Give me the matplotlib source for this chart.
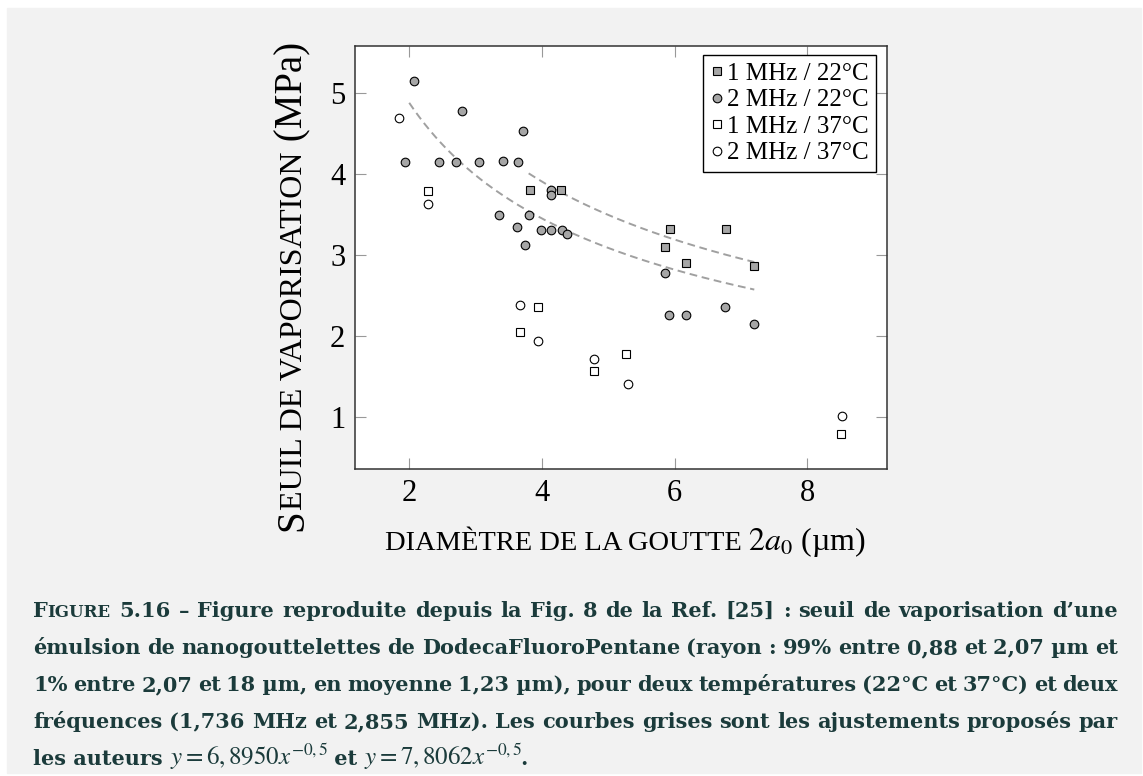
import numpy as np
import matplotlib
matplotlib.use('Agg')
import matplotlib.pyplot as plt
from matplotlib.patches import Rectangle
from matplotlib.transforms import IdentityTransform

plt.rcParams['font.family'] = ['Liberation Serif', 'DejaVu Serif']
plt.rcParams['mathtext.fontset'] = 'stix'

# seuil de vaporisation (MPa) vs diametre de la goutte (um)
sq22_x = [3.82, 4.29, 5.86, 5.93, 6.17, 6.77, 7.19]
sq22_y = [3.80, 3.80, 3.10, 3.32, 2.90, 3.32, 2.86]

ci22_x = [1.94, 2.07, 2.45, 2.71, 2.80, 3.05, 3.42, 3.64, 3.72, 4.13, 4.13, 3.36,
          3.81, 3.63, 3.99, 4.13, 4.30, 4.38, 3.74, 5.86, 5.92, 6.17, 6.76, 7.20]
ci22_y = [4.14, 5.14, 4.14, 4.14, 4.77, 4.14, 4.16, 4.14, 4.53, 3.80, 3.74, 3.49,
          3.49, 3.34, 3.31, 3.30, 3.30, 3.26, 3.12, 2.78, 2.25, 2.25, 2.35, 2.15]

sq37_x = [2.29, 3.67, 3.94, 4.78, 5.26, 8.51]
sq37_y = [3.79, 2.04, 2.35, 1.56, 1.78, 0.78]

ci37_x = [1.85, 2.29, 3.67, 3.94, 4.78, 5.30, 8.52]
ci37_y = [4.69, 3.62, 2.38, 1.93, 1.71, 1.40, 1.01]

# ajustements y = a x^-0.5
fit_a = [6.8950, 7.8062]
fit_range = [(2.0, 7.2), (3.8, 7.2)]

labels = ['1 MHz / 22°C', '2 MHz / 22°C', '1 MHz / 37°C', '2 MHz / 37°C']

caption_lines = [
    "5.16 – Figure reproduite depuis la Fig. 8 de la Ref. [25] : seuil de vaporisation d’une",
    "émulsion de nanogouttelettes de DodecaFluoroPentane (rayon : 99% entre 0,88 et 2,07~µm et",
    "1% entre 2,07 et 18~µm, en moyenne 1,23~µm), pour deux températures (22°C et 37°C) et deux",
    "fréquences (1,736 MHz et 2,855 MHz). Les courbes grises sont les ajustements proposés par",
]
caption_last = ['les auteurs ', r'$y = 6,8950x^{-0,5}$', ' et ', r'$y = 7,8062x^{-0,5}$', '.']

W, H = 1143, 776
fig = plt.figure(figsize=(W / 100, H / 100), dpi=100)
fig.patches.append(Rectangle((7 / W, 3 / H), 1134 / W, 765 / H,
                             transform=fig.transFigure, color='#f2f2f2', zorder=-1))

ax = fig.add_axes([355 / W, 1 - 469 / H, 532 / W, 423 / H])
ax.set_facecolor('white')

for a, (x0, x1) in zip(fit_a, fit_range):
    xs = np.linspace(x0, x1, 200)
    ax.plot(xs, a / np.sqrt(xs), color='#a0a0a0', lw=1.4, dashes=(4.0, 2.4), zorder=1)

gray = '#a6a6a6'
ax.plot(sq22_x, sq22_y, 's', ms=5.6, mfc=gray, mec='black', mew=0.8, ls='none', label=labels[0])
ax.plot(ci22_x, ci22_y, 'o', ms=6.2, mfc=gray, mec='black', mew=0.8, ls='none', label=labels[1])
ax.plot(sq37_x, sq37_y, 's', ms=5.6, mfc='white', mec='black', mew=0.8, ls='none', label=labels[2])
ax.plot(ci37_x, ci37_y, 'o', ms=6.2, mfc='white', mec='black', mew=0.8, ls='none', label=labels[3])

ax.set_xlim(1.183, 9.2)
ax.set_ylim(0.354, 5.577)
ax.set_xticks([2, 4, 6, 8])
ax.set_yticks([1, 2, 3, 4, 5])
ax.tick_params(direction='in', length=8, width=0.8, color='#999999', labelsize=22,
               top=True, right=True, pad=7)
for sp in ax.spines.values():
    sp.set_color('#333333')
    sp.set_linewidth(1.1)

leg = ax.legend(loc='upper right', bbox_to_anchor=(0.979, 0.979), borderaxespad=0,
                fontsize=18, handlelength=0.5, handletextpad=0.15, borderpad=0.3,
                labelspacing=0.16, numpoints=1, fancybox=False, framealpha=1)
leg.get_frame().set_edgecolor('black')
leg.get_frame().set_linewidth(1.0)

r = fig.canvas.get_renderer()
SERIF = ['Liberation Serif', 'DejaVu Serif']
CAP_FONT = ['DejaVu Serif']


def advance(s, size, weight='normal', family=SERIF):
    a = fig.text(0, 0, '|' + s + '|', fontsize=size, fontweight=weight, family=family)
    b = fig.text(0, 0, '||', fontsize=size, fontweight=weight, family=family)
    w = a.get_window_extent(r).width - b.get_window_extent(r).width
    a.remove()
    b.remove()
    return w


def run(x, y, pieces, rotation=0, weight='normal', color='black', family=SERIF):
    # draw pieces one after the other along a common baseline (pixel coords)
    for s, size in pieces:
        fig.text(x, y, s, fontsize=size, fontweight=weight, color=color, family=family,
                 rotation=rotation, rotation_mode='anchor', ha='left', va='baseline',
                 transform=IdentityTransform())
        w = advance(s, size, weight, family)
        if rotation:
            y += w
        else:
            x += w


def centered(x, y, pieces, rotation=0):
    total = sum(advance(s, size) for s, size in pieces)
    if rotation:
        run(x, y - total / 2, pieces, rotation=rotation)
    else:
        run(x - total / 2, y, pieces)


# axis labels in small caps
centered(302, H - 286.5, [('S', 28), ('EUIL DE VAPORISATION', 23), (' (MPa)', 28)], rotation=90)
centered(625, H - 550, [('DIAMÈTRE DE LA GOUTTE ', 20.5), (r'$2a_0$ (µm)', 23)])

# justified caption
cap_color = '#1b3b3b'
cs, cs_small, cs_math = 15, 12, 18
left, right = 33, 1118
base = [617, 654, 691, 728, 765]
for i, line in enumerate(caption_lines):
    words = [[(w.replace('~', ' '), cs)] for w in line.split(' ')]
    if i == 0:
        words = [[('F', cs), ('IGURE', cs_small)]] + words
    widths = [sum(advance(s, sz, 'bold', CAP_FONT) for s, sz in wd) for wd in words]
    gap = (right - left - sum(widths)) / (len(words) - 1)
    x = left
    for wd, w in zip(words, widths):
        run(x, H - base[i], wd, weight='bold', color=cap_color, family=CAP_FONT)
        x += w + gap
last = [(s, cs_math if s.startswith('$') else cs) for s in caption_last]
run(left, H - base[4], last, weight='bold', color=cap_color, family=CAP_FONT)

fig.savefig('out.png', dpi=100, facecolor='white')
